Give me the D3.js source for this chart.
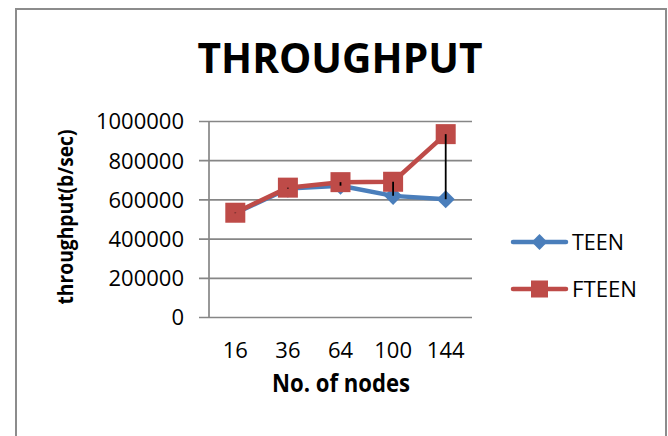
<!DOCTYPE html>
<html>
<head>
<meta charset="utf-8">
<script src="https://cdn.jsdelivr.net/npm/d3@7"></script>
<style>
  html, body { margin: 0; padding: 0; background: #fff; }
  svg { display: block; }
  text { font-family: "Open Sans", "Noto Sans", sans-serif; fill: #000; }
</style>
</head>
<body>
<script>
const categories = ["16", "36", "64", "100", "144"];
const teenValues = [530000, 655000, 670000, 618000, 601000];
const fteenValues = [532000, 660000, 688000, 690000, 933000];
const yTicks = [0, 200000, 400000, 600000, 800000, 1000000];
const seriesNames = ["TEEN", "FTEEN"];
const titleText = "THROUGHPUT";
const xTitle = "No. of nodes";
const yTitle = "throughput(b/sec)";

const W = 668, H = 436;
const svg = d3.select("body").append("svg").attr("width", W).attr("height", H);

// outer frame
svg.append("path")
  .attr("d", `M16,${H} L16,9 L666,9 L666,${H}`)
  .attr("fill", "none").attr("stroke", "#8c8c8c").attr("stroke-width", 2);

const plot = { left: 209, right: 472, top: 121, bottom: 317 };
const x = d3.scaleBand().domain(categories).range([plot.left, plot.right]);
const y = d3.scaleLinear().domain([0, 1000000]).range([plot.bottom, plot.top]);

// title
svg.append("text").attr("x", 340).attr("y", 73)
  .attr("text-anchor", "middle").attr("font-weight", "bold").attr("font-size", 41.5)
  .attr("textLength", 285).attr("lengthAdjust", "spacingAndGlyphs")
  .text(titleText);

// gridlines + y axis
const yAxis = d3.axisLeft(y).tickValues(yTicks).tickSize(plot.right - plot.left + 10)
  .tickPadding(15).tickFormat(d3.format("d"));
const gy = svg.append("g").attr("transform", `translate(${plot.right},0)`).call(yAxis);
gy.select(".domain").remove();
gy.selectAll(".tick line").attr("stroke", "#868686").attr("stroke-width", 1.7);
gy.selectAll(".tick text").attr("font-size", 22).attr("fill", "#000")
  .attr("font-family", "'Open Sans', sans-serif").attr("dy", "0.36em");

// vertical axis line
svg.append("line").attr("x1", plot.left).attr("x2", plot.left)
  .attr("y1", plot.top).attr("y2", plot.bottom)
  .attr("stroke", "#868686").attr("stroke-width", 1.7);

// x axis labels
const xAxis = d3.axisBottom(x).tickSize(0).tickPadding(25);
const gx = svg.append("g").attr("transform", `translate(0,${plot.bottom})`).call(xAxis);
gx.select(".domain").remove();
gx.selectAll(".tick text").attr("font-size", 22).attr("fill", "#000")
  .attr("font-family", "'Open Sans', sans-serif");

// axis titles
svg.append("text").attr("x", 341).attr("y", 392)
  .attr("text-anchor", "middle").attr("font-weight", "bold").attr("font-size", 25)
  .attr("textLength", 138).attr("lengthAdjust", "spacingAndGlyphs")
  .text(xTitle);
svg.append("text").attr("transform", "translate(73,217) rotate(-90)")
  .attr("text-anchor", "middle").attr("font-weight", "bold").attr("font-size", 21)
  .attr("textLength", 175).attr("lengthAdjust", "spacingAndGlyphs")
  .text(yTitle);

const cx = d => x(d) + x.bandwidth() / 2;
const blue = "#4a7ebb", red = "#be4b48";

const line = d3.line().x((d, i) => cx(categories[i])).y(d => y(d));

// TEEN series
svg.append("path").datum(teenValues).attr("d", line)
  .attr("fill", "none").attr("stroke", blue).attr("stroke-width", 4.5)
  .attr("stroke-linejoin", "round").attr("stroke-linecap", "round");
const diamond = d3.symbol().type(d3.symbolDiamond2).size(210);
svg.selectAll(".teenpt").data(teenValues).enter().append("path")
  .attr("transform", (d, i) => `translate(${cx(categories[i])},${y(d)})`)
  .attr("d", diamond).attr("fill", blue);

// FTEEN series
svg.append("path").datum(fteenValues).attr("d", line)
  .attr("fill", "none").attr("stroke", red).attr("stroke-width", 4.5)
  .attr("stroke-linejoin", "round").attr("stroke-linecap", "round");
svg.selectAll(".fteenpt").data(fteenValues).enter().append("rect")
  .attr("x", (d, i) => cx(categories[i]) - 10).attr("y", d => y(d) - 10)
  .attr("width", 20).attr("height", 20).attr("fill", red);

// high-low lines
svg.selectAll(".hl").data(categories).enter().append("line")
  .attr("x1", d => cx(d)).attr("x2", d => cx(d))
  .attr("y1", (d, i) => y(Math.max(teenValues[i], fteenValues[i])))
  .attr("y2", (d, i) => y(Math.min(teenValues[i], fteenValues[i])))
  .attr("stroke", "#000").attr("stroke-width", 1.8);

// legend
const legend = [
  { name: seriesNames[0], color: blue, y: 242, marker: "diamond" },
  { name: seriesNames[1], color: red, y: 289, marker: "square" }
];
legend.forEach(l => {
  svg.append("line").attr("x1", 513).attr("x2", 566).attr("y1", l.y).attr("y2", l.y)
    .attr("stroke", l.color).attr("stroke-width", 4.5).attr("stroke-linecap", "round");
  if (l.marker === "diamond") {
    svg.append("path").attr("transform", `translate(539.5,${l.y})`)
      .attr("d", d3.symbol().type(d3.symbolDiamond2).size(160)).attr("fill", l.color);
  } else {
    svg.append("rect").attr("x", 531).attr("y", l.y - 8.5).attr("width", 17).attr("height", 17)
      .attr("fill", l.color);
  }
  svg.append("text").attr("x", 572).attr("y", l.y + 8).attr("font-size", 22)
    .attr("textLength", l.name.length * 13).attr("lengthAdjust", "spacingAndGlyphs")
    .text(l.name);
});
</script>
</body>
</html>
